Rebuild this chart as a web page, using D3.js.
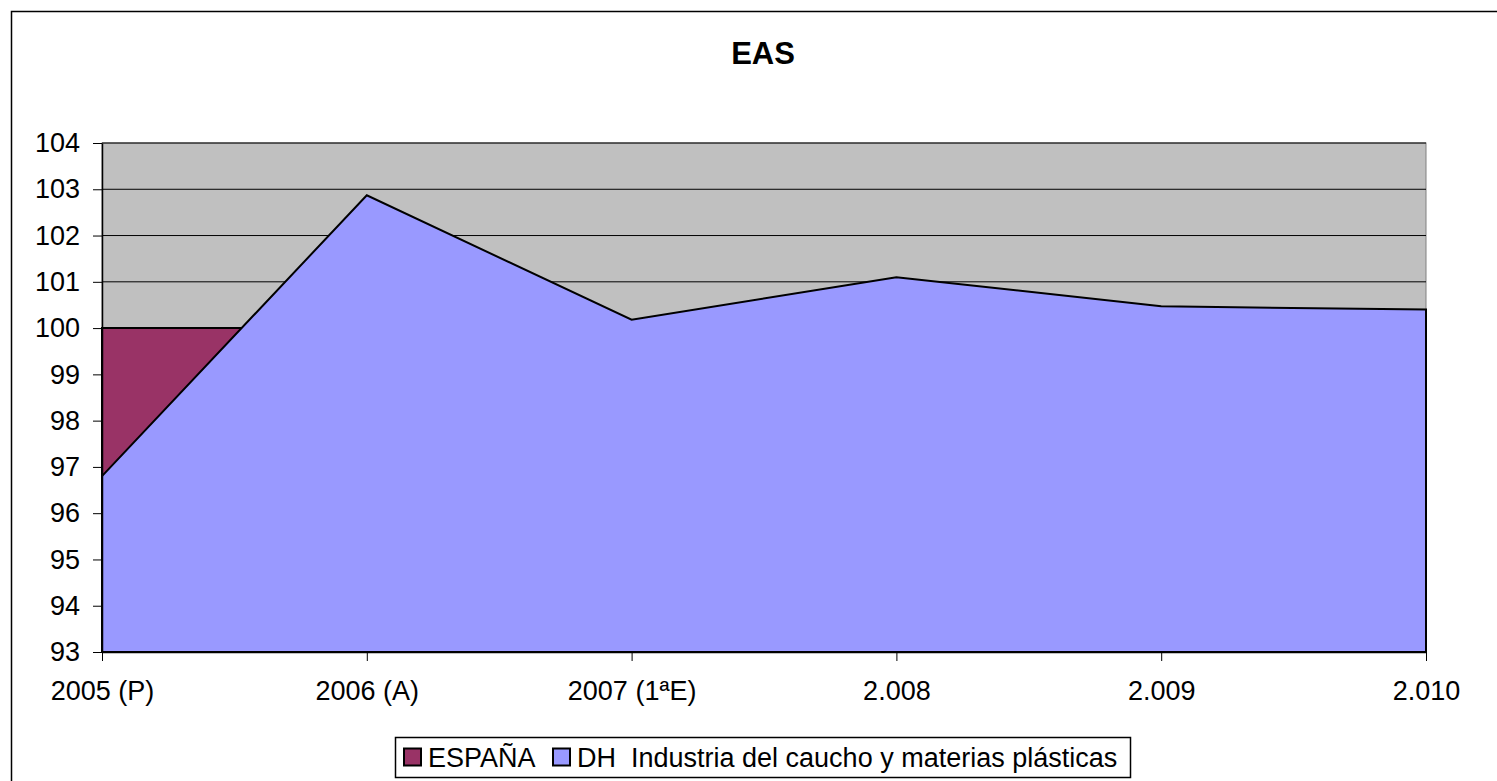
<!DOCTYPE html>
<html><head><meta charset="utf-8">
<script src="https://cdn.jsdelivr.net/npm/d3@7"></script>
<style>body{margin:0;background:#fff}svg{display:block}text{font-family:"Liberation Sans",Arial,sans-serif}</style>
</head><body>
<script>
const categories = ["2005 (P)", "2006 (A)", "2007 (1ªE)", "2.008", "2.009", "2.010"];
const espana = [100, 100, 100, 100, 100, 100];
const dh = [96.8, 102.87, 100.18, 101.1, 100.47, 100.4];
const yTicks = [93, 94, 95, 96, 97, 98, 99, 100, 101, 102, 103, 104];
const seriesNames = ["ESPAÑA", "DH  Industria del caucho y materias plásticas"];
const colors = ["#993366", "#9999FF"];

const W = 1497, H = 781;
const svg = d3.select("body").append("svg").attr("width", W).attr("height", H);
svg.append("rect").attr("x", 11.5).attr("y", 11.5).attr("width", W).attr("height", H)
  .attr("fill", "#fff").attr("stroke", "#000").attr("stroke-width", 1.5);

const L = 102, R = 1426, T = 143, B = 652;
const x = d3.scalePoint().domain(categories).range([L, R]);
const y = d3.scaleLinear().domain([93, 104]).range([B, T]);

svg.append("rect").attr("x", L).attr("y", T).attr("width", R - L).attr("height", B - T)
  .attr("fill", "#C0C0C0").attr("stroke", "#808080").attr("stroke-width", 1);

svg.append("g").selectAll("line").data(yTicks.filter(d => d > 93)).join("line")
  .attr("x1", L).attr("x2", R).attr("y1", d => y(d)).attr("y2", d => y(d))
  .attr("stroke", "#000").attr("stroke-width", 1);

const area = d3.area().x((d, i) => x(categories[i])).y0(y(93)).y1(d => y(d));
[espana, dh].forEach((s, k) => {
  svg.append("path").datum(s).attr("d", area).attr("fill", colors[k])
    .attr("stroke", "#000").attr("stroke-width", 2).attr("stroke-linejoin", "miter");
});

const yAxis = svg.append("g").attr("transform", `translate(${L},0)`)
  .call(d3.axisLeft(y).tickValues(yTicks).tickSize(9).tickPadding(13).tickSizeOuter(0).tickFormat(d3.format("d")));
yAxis.select(".domain").attr("stroke", "#000").attr("stroke-width", 1.5);
yAxis.selectAll("text").attr("font-size", 27).attr("fill", "#000");

const xAxis = svg.append("g").attr("transform", `translate(0,${B})`)
  .call(d3.axisBottom(x).tickSize(9).tickPadding(20).tickSizeOuter(0));
xAxis.select(".domain").attr("stroke", "#000").attr("stroke-width", 1.5);
xAxis.selectAll("text").attr("font-size", 27).attr("fill", "#000");

svg.append("text").attr("x", 763).attr("y", 64).attr("text-anchor", "middle")
  .attr("font-size", 31).attr("font-weight", "bold").text("EAS");

const lg = svg.append("g");
lg.append("rect").attr("x", 395.5).attr("y", 737.5).attr("width", 735).attr("height", 40)
  .attr("fill", "#fff").attr("stroke", "#000").attr("stroke-width", 1.5);
const items = [{x: 404, t: seriesNames[0]}, {x: 553, t: seriesNames[1]}];
items.forEach((it, k) => {
  lg.append("rect").attr("x", it.x).attr("y", 748.5).attr("width", 17).attr("height", 17)
    .attr("fill", colors[k]).attr("stroke", "#000").attr("stroke-width", 2);
  lg.append("text").attr("x", it.x + 24).attr("y", 767).attr("font-size", 27)
    .attr("xml:space", "preserve").style("white-space", "pre").text(it.t);
});
</script>
</body></html>
